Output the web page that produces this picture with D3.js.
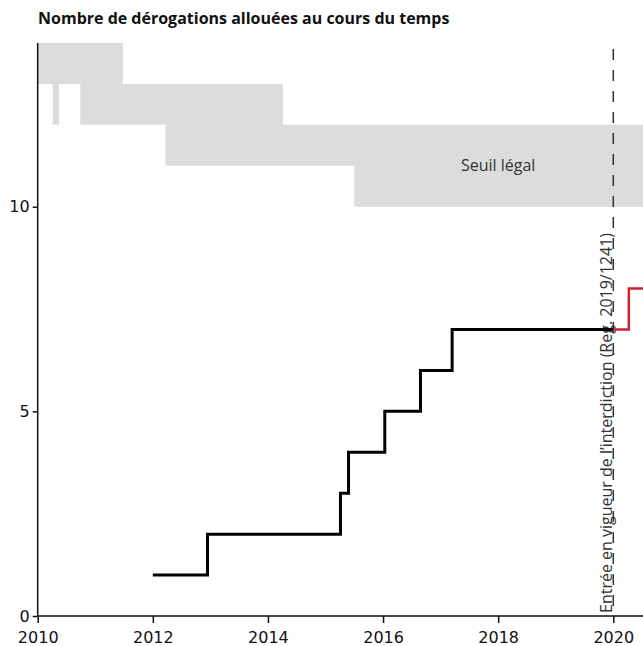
<!DOCTYPE html>
<html lang="fr">
<head>
<meta charset="UTF-8">
<title>Nombre de dérogations allouées au cours du temps</title>
<script src="https://d3js.org/d3.v7.min.js"></script>
<style>
    body { margin: 0; background: #fff; }
    svg { display: block; overflow: hidden; }
    .title { font-family: "Open Sans", sans-serif; font-weight: 700; font-size: 16px; fill: #111; }
    .axis text { font-family: "DejaVu Sans", sans-serif; font-size: 16px; fill: #111; }
    .annot { font-family: "Open Sans", sans-serif; font-size: 16px; fill: #333; }
</style>
</head>
<body>
<div id="chart"></div>
<script>
// Seuil légal : bornes haute et basse (fonction en escalier)
const seuilDates = [2010, 2010.26, 2010.37, 2010.74, 2011.48, 2012.22, 2014.26, 2015.5, 2020.7];
const seuilMax   = [14, 14, 14, 14, 13, 13, 12, 12, 12];
const seuilMin   = [13, 12, 13, 12, 12, 11, 11, 10, 10];

// Nombre de dérogations avant l'interdiction
const derogDates  = [2012, 2012.95, 2015.26, 2015.40, 2016.03, 2016.65, 2017.2, 2020];
const derogValeurs = [1, 2, 3, 4, 5, 6, 7, 7];

// Après l'entrée en vigueur
const apresDates   = [2020, 2020.27, 2020.7];
const apresValeurs = [7, 8, 8];

const xTicks = [2010, 2012, 2014, 2016, 2018, 2020];
const yTicks = [0, 5, 10];
const dateInterdiction = 2020;

const width = 643, height = 646;

const x = d3.scaleLinear().domain([2010, 2020]).range([37.7, 613.3]);
const y = d3.scaleLinear().domain([0, 14]).range([616, 43]);

const svg = d3.select('#chart').append('svg')
    .attr('width', width)
    .attr('height', height);

svg.append('text')
    .attr('class', 'title')
    .attr('x', 38)
    .attr('y', 24)
    .text('Nombre de dérogations allouées au cours du temps');

// bande grise
const seuil = seuilDates.map((d, i) => ({ date: d, max: seuilMax[i], min: seuilMin[i] }));
svg.append('path')
    .datum(seuil)
    .attr('fill', '#dcdcdc')
    .attr('d', d3.area()
        .curve(d3.curveStepAfter)
        .x(d => x(d.date))
        .y0(d => y(d.min))
        .y1(d => y(d.max)));

svg.append('text')
    .attr('class', 'annot')
    .attr('x', x(2018))
    .attr('y', y(11))
    .attr('dy', '0.35em')
    .attr('text-anchor', 'middle')
    .text('Seuil légal');

// axes
const xAxis = svg.append('g')
    .attr('class', 'axis')
    .attr('transform', `translate(0,${y(0)})`)
    .call(d3.axisBottom(x).tickValues(xTicks).tickFormat(d3.format('d')).tickSize(7).tickSizeOuter(0).tickPadding(9));
xAxis.select('.domain').attr('d', `M${x(2010)},0H${width}`);

const yAxis = svg.append('g')
    .attr('class', 'axis')
    .attr('transform', `translate(${x(2010)},0)`)
    .call(d3.axisLeft(y).tickValues(yTicks).tickSize(5).tickSizeOuter(0).tickPadding(3));
yAxis.select('.domain').attr('d', `M0,${y(14)}V${y(0)}`);
svg.selectAll('.axis .domain, .axis line').attr('stroke', '#111').attr('stroke-width', 1.5);

// ligne de l'interdiction
svg.append('line')
    .attr('x1', x(dateInterdiction)).attr('x2', x(dateInterdiction))
    .attr('y1', y(14)).attr('y2', y(0))
    .attr('stroke', '#333')
    .attr('stroke-width', 1.5)
    .attr('stroke-dasharray', '11,10')
    .attr('stroke-dashoffset', -6);

svg.append('text')
    .attr('class', 'annot')
    .attr('transform', `translate(${x(dateInterdiction) - 1},${y(0) - 3}) rotate(-90)`)
    .text('Entrée en vigueur de l\u2019interdiction (Reg. 2019/1241)');

// courbes
const ligne = d3.line().curve(d3.curveStepAfter).x(d => x(d[0])).y(d => y(d[1]));

svg.append('path')
    .datum(derogDates.map((d, i) => [d, derogValeurs[i]]))
    .attr('fill', 'none')
    .attr('stroke', '#000')
    .attr('stroke-width', 3)
    .attr('d', ligne);

svg.append('path')
    .datum(apresDates.map((d, i) => [d, apresValeurs[i]]))
    .attr('fill', 'none')
    .attr('stroke', '#d0202f')
    .attr('stroke-width', 2.5)
    .attr('d', ligne);
</script>
</body>
</html>
